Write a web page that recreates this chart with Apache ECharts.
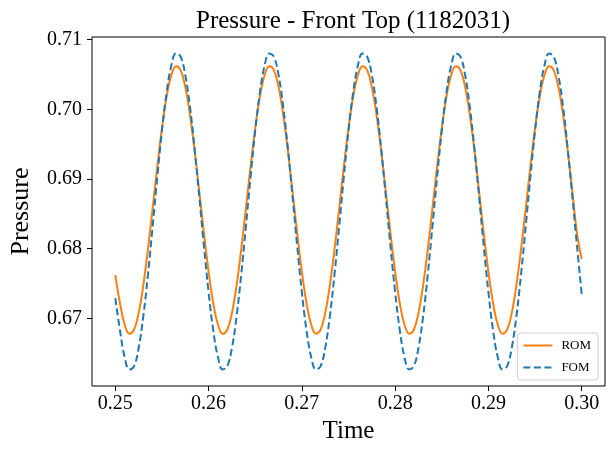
<!DOCTYPE html>
<html>
<head>
<meta charset="utf-8">
<script src="https://cdn.jsdelivr.net/npm/echarts@6/dist/echarts.min.js"></script>
<style>
  html, body { margin: 0; padding: 0; background: #fff; }
  #main { width: 613px; height: 449px; }
</style>
</head>
<body>
<div id="main"></div>
<script>
// sample times (s)
const times = [
  0.2500, 0.2505, 0.2510, 0.2515, 0.2520, 0.2525, 0.2530, 0.2535, 0.2540, 0.2545,
  0.2550, 0.2555, 0.2560, 0.2565, 0.2570, 0.2575, 0.2580, 0.2585, 0.2590, 0.2595,
  0.2600, 0.2605, 0.2610, 0.2615, 0.2620, 0.2625, 0.2630, 0.2635, 0.2640, 0.2645,
  0.2650, 0.2655, 0.2660, 0.2665, 0.2670, 0.2675, 0.2680, 0.2685, 0.2690, 0.2695,
  0.2700, 0.2705, 0.2710, 0.2715, 0.2720, 0.2725, 0.2730, 0.2735, 0.2740, 0.2745,
  0.2750, 0.2755, 0.2760, 0.2765, 0.2770, 0.2775, 0.2780, 0.2785, 0.2790, 0.2795,
  0.2800, 0.2805, 0.2810, 0.2815, 0.2820, 0.2825, 0.2830, 0.2835, 0.2840, 0.2845,
  0.2850, 0.2855, 0.2860, 0.2865, 0.2870, 0.2875, 0.2880, 0.2885, 0.2890, 0.2895,
  0.2900, 0.2905, 0.2910, 0.2915, 0.2920, 0.2925, 0.2930, 0.2935, 0.2940, 0.2945,
  0.2950, 0.2955, 0.2960, 0.2965, 0.2970, 0.2975, 0.2980, 0.2985, 0.2990, 0.2995,
  0.3000
];

// ROM pressure
const romValues = [
  0.67620, 0.67216, 0.66910, 0.66779, 0.66835, 0.67074, 0.67472, 0.67990, 0.68577, 0.69176,
  0.69728, 0.70180, 0.70486, 0.70617, 0.70561, 0.70322, 0.69924, 0.69406, 0.68819, 0.68220,
  0.67668, 0.67216, 0.66910, 0.66779, 0.66835, 0.67074, 0.67472, 0.67990, 0.68577, 0.69176,
  0.69728, 0.70180, 0.70486, 0.70617, 0.70561, 0.70322, 0.69924, 0.69406, 0.68819, 0.68220,
  0.67668, 0.67216, 0.66910, 0.66779, 0.66835, 0.67074, 0.67472, 0.67990, 0.68577, 0.69176,
  0.69728, 0.70180, 0.70486, 0.70617, 0.70561, 0.70322, 0.69924, 0.69406, 0.68819, 0.68220,
  0.67668, 0.67216, 0.66910, 0.66779, 0.66835, 0.67074, 0.67472, 0.67990, 0.68577, 0.69176,
  0.69728, 0.70180, 0.70486, 0.70617, 0.70561, 0.70322, 0.69924, 0.69406, 0.68819, 0.68220,
  0.67668, 0.67216, 0.66910, 0.66779, 0.66835, 0.67074, 0.67472, 0.67990, 0.68577, 0.69176,
  0.69728, 0.70180, 0.70486, 0.70617, 0.70561, 0.70322, 0.69924, 0.69406, 0.68819, 0.68220,
  0.67850
];

// FOM pressure
const fomValues = [
  0.67290, 0.66825, 0.66443, 0.66266, 0.66311, 0.66573, 0.67027, 0.67629, 0.68319, 0.69030,
  0.69692, 0.70241, 0.70623, 0.70800, 0.70755, 0.70493, 0.70039, 0.69437, 0.68747, 0.68036,
  0.67374, 0.66825, 0.66443, 0.66266, 0.66311, 0.66573, 0.67027, 0.67629, 0.68319, 0.69030,
  0.69692, 0.70241, 0.70623, 0.70800, 0.70755, 0.70493, 0.70039, 0.69437, 0.68747, 0.68036,
  0.67374, 0.66825, 0.66443, 0.66266, 0.66311, 0.66573, 0.67027, 0.67629, 0.68319, 0.69030,
  0.69692, 0.70241, 0.70623, 0.70800, 0.70755, 0.70493, 0.70039, 0.69437, 0.68747, 0.68036,
  0.67374, 0.66825, 0.66443, 0.66266, 0.66311, 0.66573, 0.67027, 0.67629, 0.68319, 0.69030,
  0.69692, 0.70241, 0.70623, 0.70800, 0.70755, 0.70493, 0.70039, 0.69437, 0.68747, 0.68036,
  0.67374, 0.66825, 0.66443, 0.66266, 0.66311, 0.66573, 0.67027, 0.67629, 0.68319, 0.69030,
  0.69692, 0.70241, 0.70623, 0.70800, 0.70755, 0.70493, 0.70039, 0.69437, 0.68747, 0.68036,
  0.67350
];

const xTicks = [0.25, 0.26, 0.27, 0.28, 0.29, 0.30];
const yTicks = [0.67, 0.68, 0.69, 0.70, 0.71];

const FONT = 'Liberation Serif';

const chart = echarts.init(document.getElementById('main'), null, { renderer: 'canvas' });

const option = {
  animation: false,
  backgroundColor: '#fff',
  title: {
    text: 'Pressure - Front Top (1182031)',
    left: 348,
    textAlign: 'center',
    top: 4,
    textStyle: { fontFamily: FONT, fontSize: 25, fontWeight: 'normal', color: '#000' }
  },
  grid: {
    left: 91, top: 37, width: 514, height: 349,
    show: true, borderColor: '#000', borderWidth: 1, backgroundColor: 'transparent'
  },
  legend: {
    orient: 'vertical',
    right: 15, bottom: 69,
    data: ['ROM', 'FOM'],
    itemWidth: 29, itemHeight: 12, itemGap: 9,
    padding: [6, 7, 6, 5],
    backgroundColor: '#fff',
    borderColor: '#d0d0d0', borderWidth: 1, borderRadius: 3,
    itemStyle: { color: 'transparent', opacity: 0, borderWidth: 0 },
    textStyle: { fontFamily: FONT, fontSize: 13, color: '#000', padding: [0, 0, 0, 4] }
  },
  xAxis: {
    type: 'value',
    min: 0.2475, max: 0.3025,
    name: 'Time',
    nameLocation: 'middle',
    nameGap: 30,
    nameTextStyle: { fontFamily: FONT, fontSize: 25, color: '#000' },
    axisLine: { show: false },
    splitLine: { show: false },
    axisTick: { show: true, length: 5, customValues: xTicks, lineStyle: { color: '#000', width: 1 } },
    axisLabel: {
      customValues: xTicks, margin: 8,
      fontFamily: FONT, fontSize: 20, color: '#000',
      formatter: v => v.toFixed(2)
    }
  },
  yAxis: {
    type: 'value',
    min: 0.66028, max: 0.71037,
    name: 'Pressure',
    nameLocation: 'middle',
    nameGap: 58,
    nameTextStyle: { fontFamily: FONT, fontSize: 26, color: '#000' },
    axisLine: { show: false },
    splitLine: { show: false },
    axisTick: { show: true, length: 5, customValues: yTicks, lineStyle: { color: '#000', width: 1 } },
    axisLabel: {
      customValues: yTicks, margin: 10,
      fontFamily: FONT, fontSize: 20, color: '#000',
      formatter: v => v.toFixed(2)
    }
  },
  series: [
    {
      name: 'ROM',
      type: 'line',
      symbol: 'none',
      smooth: 0.4,
      data: times.map((t, i) => [t, romValues[i]]),
      lineStyle: { color: '#ff7f0e', width: 2 },
      itemStyle: { color: '#ff7f0e' }
    },
    {
      name: 'FOM',
      type: 'line',
      symbol: 'none',
      smooth: 0.4,
      data: times.map((t, i) => [t, fomValues[i]]),
      lineStyle: { color: '#1f77b4', width: 2, type: [7, 3.5] },
      itemStyle: { color: '#1f77b4' }
    }
  ]
};

chart.setOption(option);
</script>
</body>
</html>
